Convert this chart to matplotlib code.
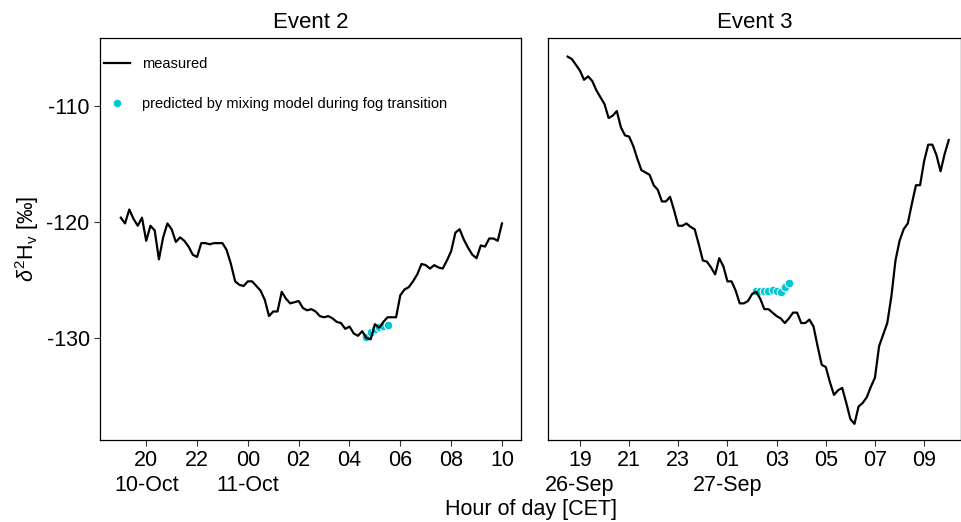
# two fog events: measured vapour d2H and mixing model prediction
import numpy as np
import pandas as pd
import matplotlib
matplotlib.use("Agg")
import matplotlib.pyplot as plt

plt.rcParams['font.family'] = ['Liberation Sans', 'DejaVu Sans']
plt.rcParams['mathtext.fontset'] = 'custom'
plt.rcParams['mathtext.rm'] = 'Liberation Sans'
plt.rcParams['mathtext.it'] = 'Liberation Sans:italic'

# event 2, 10-min data from 10-Oct 19:00
ev2_start = "2019-10-10 19:00"
ev2_meas = [
  -119.6, -120.1, -118.9, -119.7, -120.3, -119.6, -121.6, -120.3, -120.7, -123.2,
  -121.3, -120.1, -120.6, -121.7, -121.3, -121.6, -122.1, -122.8, -123.0, -121.8,
  -121.8, -121.9, -121.8, -121.8, -121.8, -122.4, -123.6, -125.1, -125.4, -125.5,
  -125.1, -125.1, -125.5, -125.9, -126.7, -128.1, -127.7, -127.7, -126.0, -126.6,
  -127.0, -126.9, -126.8, -127.4, -127.6, -127.5, -127.7, -128.1, -128.2, -128.1,
  -128.3, -128.6, -128.7, -129.2, -129.0, -129.6, -129.8, -129.4, -130.0, -130.1,
  -128.8, -129.1, -128.6, -128.2, -128.2, -128.2, -126.3, -125.8, -125.6, -125.1,
  -124.5, -123.6, -123.7, -124.0, -123.7, -123.9, -124.0, -123.3, -122.5, -120.9,
  -120.6, -121.5, -122.2, -122.8, -123.1, -122.0, -122.1, -121.4, -121.4, -121.6,
  -120.1,
]
ev2_pred_start = "2019-10-11 04:40"
ev2_pred = [-129.9, -129.5, -129.25, -129.05, -128.95, -128.85]

# event 3, 10-min data from 26-Sep 18:30
ev3_start = "2019-09-26 18:30"
ev3_meas = [
  -105.7, -105.9, -106.4, -106.9, -107.7, -107.4, -107.8, -108.6, -109.2, -109.8,
  -111.0, -110.8, -110.4, -111.8, -112.5, -112.6, -113.4, -114.5, -115.5, -115.7,
  -115.9, -116.8, -117.2, -118.2, -118.2, -117.8, -119.0, -120.3, -120.3, -120.1,
  -120.4, -120.6, -121.9, -123.3, -123.4, -123.9, -124.5, -123.1, -123.8, -125.1,
  -125.1, -125.9, -127.0, -127.0, -126.8, -126.2, -126.0, -126.6, -127.5, -127.5,
  -127.8, -128.1, -128.3, -128.7, -128.3, -127.8, -127.8, -128.7, -128.7, -128.4,
  -129.0, -130.7, -132.3, -132.5, -133.8, -134.9, -134.5, -134.3, -135.6, -137.0,
  -137.4, -135.9, -135.6, -135.1, -134.2, -133.4, -130.7, -129.7, -128.7, -126.4,
  -123.3, -121.6, -120.6, -120.1, -118.4, -116.8, -116.8, -114.7, -113.3, -113.3,
  -114.2, -115.6, -114.1, -112.9,
]
ev3_pred_start = "2019-09-27 02:10"
ev3_pred = [-125.9, -125.9, -125.9, -125.9, -125.85, -125.9, -126.0, -125.6, -125.2]

ev2_ticks = ["2019-10-10 20:00", "2019-10-10 22:00", "2019-10-11 00:00", "2019-10-11 02:00",
             "2019-10-11 04:00", "2019-10-11 06:00", "2019-10-11 08:00", "2019-10-11 10:00"]
ev2_ticklabels = ["20\n10-Oct", "22", "00\n11-Oct", "02", "04", "06", "08", "10"]
ev3_ticks = ["2019-09-26 19:00", "2019-09-26 21:00", "2019-09-26 23:00", "2019-09-27 01:00",
             "2019-09-27 03:00", "2019-09-27 05:00", "2019-09-27 07:00", "2019-09-27 09:00"]
ev3_ticklabels = ["19\n26-Sep", "21", "23", "01\n27-Sep", "03", "05", "07", "09"]

cyan = '#00C8D2'

fig = plt.figure(figsize=(9.62, 5.22), dpi=100)
ax1 = fig.add_axes([0.104, 0.157, 0.4376, 0.770])
ax2 = fig.add_axes([0.5696, 0.157, 0.4294, 0.770], sharey=ax1)

panels = [
  (ax1, "Event 2", ev2_start, ev2_meas, ev2_pred_start, ev2_pred, ev2_ticks, ev2_ticklabels,
   ("2019-10-10 18:11", "2019-10-11 10:45")),
  (ax2, "Event 3", ev3_start, ev3_meas, ev3_pred_start, ev3_pred, ev3_ticks, ev3_ticklabels,
   ("2019-09-26 17:42", "2019-09-27 10:30")),
]

for ax, title, t0, meas, p0, pred, ticks, labels, lim in panels:
  t = pd.date_range(t0, periods=len(meas), freq="10min")
  tp = pd.date_range(p0, periods=len(pred), freq="10min")
  ax.plot(t, meas, c='k', lw=1.6, label='measured', zorder=3)
  ax.plot(tp, pred, ls='none', marker='o', ms=6.2, mfc=cyan, mec='white', mew=0.7,
          label='predicted by mixing model during fog transition', zorder=2)
  ax.set_xlim(pd.Timestamp(lim[0]), pd.Timestamp(lim[1]))
  ax.set_xticks(pd.to_datetime(ticks))
  ax.set_xticklabels(labels)
  ax.set_title(title, fontsize=16, pad=7)
  ax.tick_params(axis='both', labelsize=15.5, length=4, width=0.8, color='#333333')
  for s in ax.spines.values():
    s.set_linewidth(0.9)

ax1.set_ylim(-138.8, -104.1)
ax1.set_yticks([-110, -120, -130])
ax1.set_yticklabels(["-110", "-120", "-130"])
ax1.set_ylabel(r'$\delta^2\mathrm{H_v}$ [‰]', fontsize=15.5, labelpad=4)
ax2.tick_params(axis='y', left=False, labelleft=False)

leg = ax1.legend(loc='upper left', bbox_to_anchor=(0.0095, 0.953), frameon=False,
                 fontsize=10.5, borderpad=0, borderaxespad=0, handlelength=1.8,
                 handletextpad=0.8, labelspacing=1.8, markerscale=1.0)

fig.text(0.552, 0.013, 'Hour of day [CET]', ha='center', fontsize=15.5)

plt.savefig('out.png', dpi=100)
